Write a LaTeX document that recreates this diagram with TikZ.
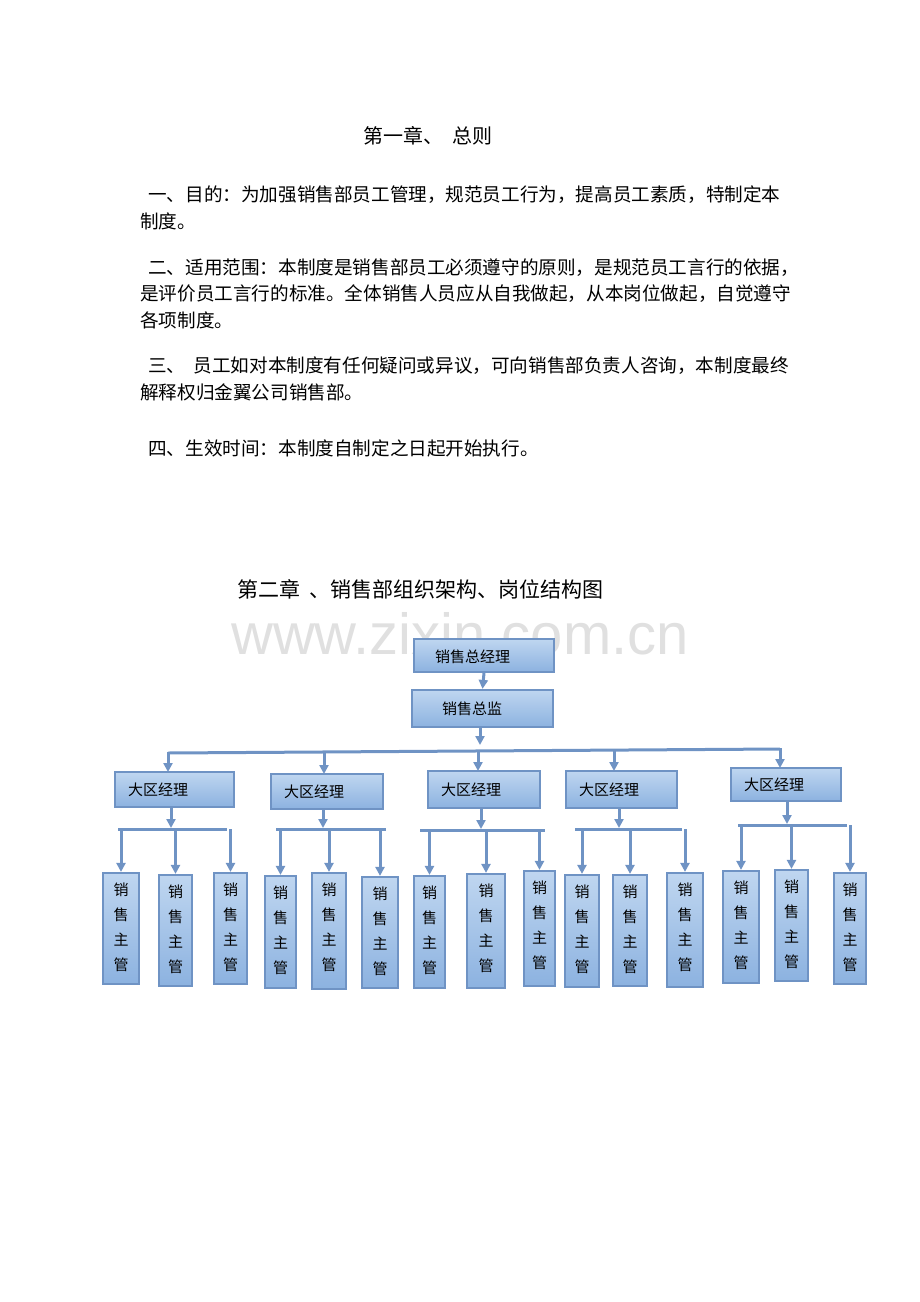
\documentclass[tikz,border=0pt]{standalone}
\usepackage{fontspec}
\newfontfamily\cjk{Noto Sans CJK SC}
\newfontfamily\wm{Liberation Sans}
\usetikzlibrary{arrows.meta}
\begin{document}
\begin{tikzpicture}[x=1pt,y=-1pt,
  txt/.style={anchor=west,inner sep=0pt,font=\cjk\fontsize{18.6}{20}\selectfont},
  box/.style={draw=boxline,line width=2.2pt,top color=boxtop,bottom color=boxbot,inner sep=0pt},
  con/.style={draw=boxline,line width=3pt},
  arr/.style={con,-{Triangle[length=9pt,width=9pt]}},
  lab/.style={font=\cjk\fontsize{15}{17}\selectfont,inner sep=0pt}]
\definecolor{boxline}{HTML}{6F93C4}
\definecolor{boxtop}{HTML}{BFD6F0}
\definecolor{boxbot}{HTML}{8CB2E0}
\useasboundingbox (0,0) rectangle (920,1302);
\node[font=\cjk\fontsize{20}{22}\selectfont] (t1) at (428,136) {第一章、\ \ 总则};
\node[txt] (p1) at (148,195) {一、目的：为加强销售部员工管理，规范员工行为，提高员工素质，特制定本};
\node[txt] (p1b) at (140,221) {制度。};
\node[txt] (p2) at (148,268) {二、适用范围：本制度是销售部员工必须遵守的原则，是规范员工言行的依据，};
\node[txt] (p2b) at (140,294) {是评价员工言行的标准。全体销售人员应从自我做起，从本岗位做起，自觉遵守};
\node[txt] (p2c) at (140,320) {各项制度。};
\node[txt] (p3) at (148,366) {三、\ \ 员工如对本制度有任何疑问或异议，可向销售部负责人咨询，本制度最终};
\node[txt] (p3b) at (140,392) {解释权归金翼公司销售部。};
\node[txt] (p4) at (148,448) {四、生效时间：本制度自制定之日起开始执行。};
\node[font=\cjk\fontsize{21}{23}\selectfont,anchor=west,inner sep=0pt] (t2) at (237,589) {第二章\ \ 、销售部组织架构、岗位结构图};
\node[font=\wm\fontsize{58}{60}\selectfont,text=black!12] (wm) at (460,634) {www.zixin.com.cn};
\node[box,minimum width=140pt,minimum height=33pt] (gm) at (484,655.5) {};
\node[lab,anchor=west] at (435,657) {销售总经理};
\node[box,minimum width=141pt,minimum height=37pt] (dir) at (482.5,708.5) {};
\node[lab,anchor=west] at (442,709) {销售总监};
\draw[arr] (gm.south) -- (dir.north);
\coordinate (d0) at (480,727);
\coordinate (d1) at (480,745);
\draw[arr] (d0) -- (d1);
\coordinate (hl) at (168,753);
\coordinate (hr) at (780,749);
\draw[con] (hl) -- (hr);
\foreach \n/\xa/\xb/\ya/\yb/\ax in {r1/115/234/772/807/168, r2/271/383/774/809/324, r3/428/540/771/808/478, r4/566/677/771/808/614, r5/731/841/768/801/780}{
  \node[box,minimum width={\xb-\xa},minimum height={\yb-\ya}] (\n) at ({(\xa+\xb)/2},{(\ya+\yb)/2}) {};
  \node[lab,anchor=west] at ({\xa+13},{(\ya+\yb)/2}) {大区经理};
  \coordinate (\n t) at (\ax,{752-(\ax-168)*4/612});
  \draw[arr] (\n t) -- (\ax,\ya);
}
\foreach \n/\cx/\ly/\la/\lb in {r1/171/829/118/227, r2/323/829/276/386, r3/481/830/420/545, r4/619/829/575/682, r5/787/825/738/847}{
  \coordinate (\n b) at (\cx,\ly);
  \draw[arr] (\n.south -| \n b) -- (\cx,\ly-1);
  \draw[con] (\la,\ly) -- (\lb,\ly);
}
\foreach \i/\xa/\xb/\ya/\yb/\ly in {
 1/103/139/873/984/829, 2/159/192/875/986/829, 3/214/247/873/984/829,
 4/265/296/876/988/829, 5/312/346/873/989/829, 6/362/398/877/988/829,
 7/414/445/876/988/830, 8/467/505/874/988/830, 9/524/555/871/986/830,
 10/565/599/875/987/829, 11/613/647/875/986/829, 12/667/703/873/987/829,
 13/723/759/871/983/825, 14/775/808/870/981/825, 15/834/866/873/984/825}{
  \node[box,minimum width={\xb-\xa},minimum height={\yb-\ya}] (s\i) at ({(\xa+\xb)/2},{(\ya+\yb)/2}) {};
  \node[lab,align=center,font=\cjk\fontsize{15}{25}\selectfont,anchor=north] at ({(\xa+\xb)/2},{\ya+10}) {销\\售\\主\\管};
  \coordinate (c\i) at ({(\xa+\xb)/2},\ly);
  \draw[arr] (c\i) -- (s\i.north);
}
\end{tikzpicture}
\end{document}
